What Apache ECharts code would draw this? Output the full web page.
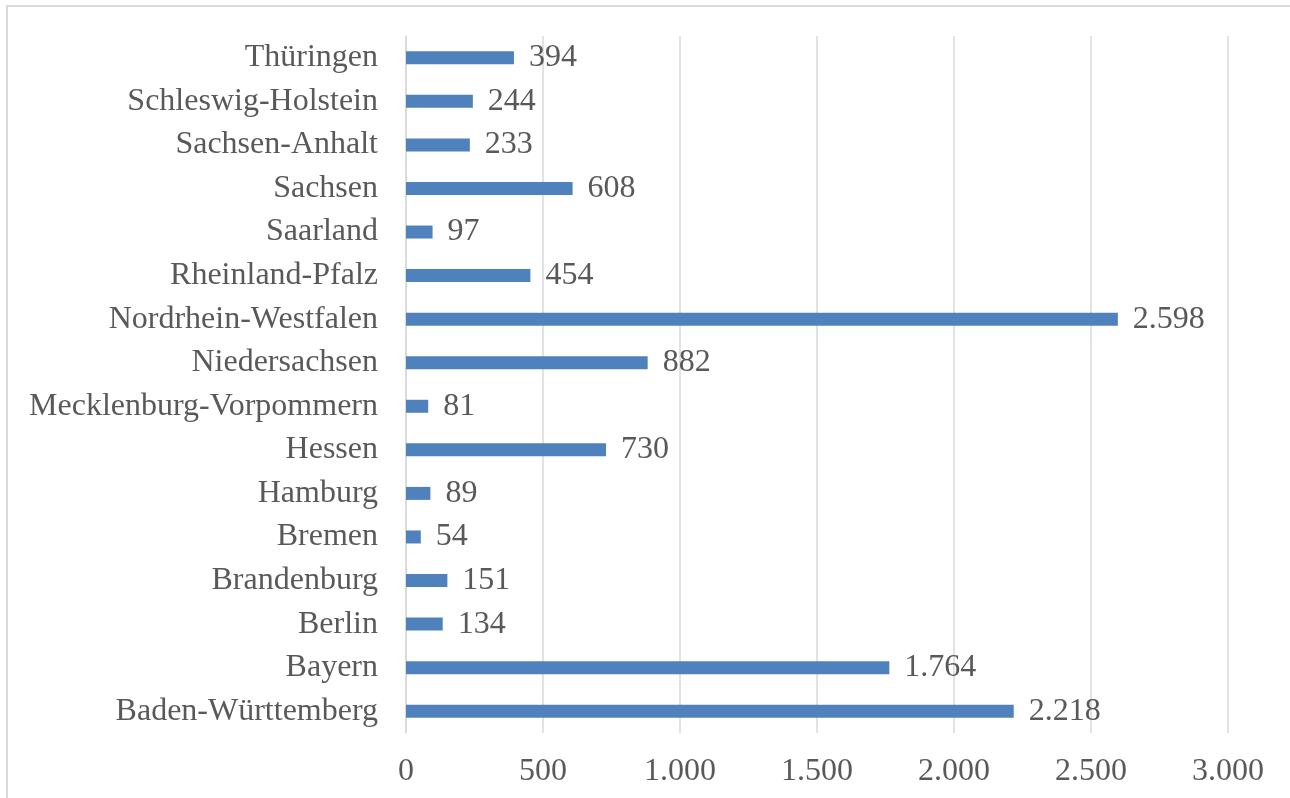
<!DOCTYPE html>
<html>
<head>
<meta charset="utf-8">
<script src="https://cdn.jsdelivr.net/npm/echarts@6/dist/echarts.min.js"></script>
<style>
  html, body { margin: 0; padding: 0; background: #ffffff; }
  #chart { width: 1290px; height: 798px; }
</style>
</head>
<body>
<div id="chart"></div>
<script>
// Bundesländer (bottom to top on the category axis)
const laender = [
  'Baden-Württemberg', 'Bayern', 'Berlin', 'Brandenburg', 'Bremen', 'Hamburg',
  'Hessen', 'Mecklenburg-Vorpommern', 'Niedersachsen', 'Nordrhein-Westfalen',
  'Rheinland-Pfalz', 'Saarland', 'Sachsen', 'Sachsen-Anhalt',
  'Schleswig-Holstein', 'Thüringen'
];
const werte = [2218, 1764, 134, 151, 54, 89, 730, 81, 882, 2598, 454, 97, 608, 233, 244, 394];
const achseMin = 0;
const achseMax = 3000;
const achseSchritt = 500;

// German thousands separator: 1.000, 2.598
function deNum(v) {
  return String(Math.round(v)).replace(/\B(?=(\d{3})+(?!\d))/g, '.');
}

const FONT = '"Liberation Serif", "Times New Roman", serif';
const TEXT = '#595959';
const FS = 32;

const chart = echarts.init(document.getElementById('chart'), null, { renderer: 'canvas' });
chart.setOption({
  backgroundColor: '#ffffff',
  animation: false,
  graphic: [{
    type: 'rect',
    shape: { x: 7, y: 6, width: 1300, height: 810 },
    style: { fill: 'none', stroke: '#d9d9d9', lineWidth: 2 },
    silent: true
  }],
  grid: { left: 406, right: 62, top: 36, bottom: 65, containLabel: false },
  xAxis: {
    type: 'value',
    min: achseMin,
    max: achseMax,
    interval: achseSchritt,
    axisLine: { show: false },
    axisTick: { show: false },
    splitLine: { show: true, lineStyle: { color: '#d9d9d9', width: 1.5 } },
    axisLabel: {
      color: TEXT, fontFamily: FONT, fontSize: FS, margin: 23,
      formatter: deNum
    }
  },
  yAxis: {
    type: 'category',
    data: laender,
    axisLine: { show: true, lineStyle: { color: '#d9d9d9', width: 1.5 } },
    axisTick: { show: false },
    splitLine: { show: false },
    axisLabel: { color: TEXT, fontFamily: FONT, fontSize: FS, margin: 28, padding: [3, 0, 0, 0] }
  },
  series: [{
    type: 'bar',
    data: werte,
    barWidth: 13,
    itemStyle: { color: '#4f81bd' },
    label: {
      show: true,
      position: 'right',
      distance: 15,
      color: TEXT,
      fontFamily: FONT,
      fontSize: FS,
      padding: [3, 0, 0, 0],
      formatter: p => deNum(p.value)
    }
  }]
});
</script>
</body>
</html>
